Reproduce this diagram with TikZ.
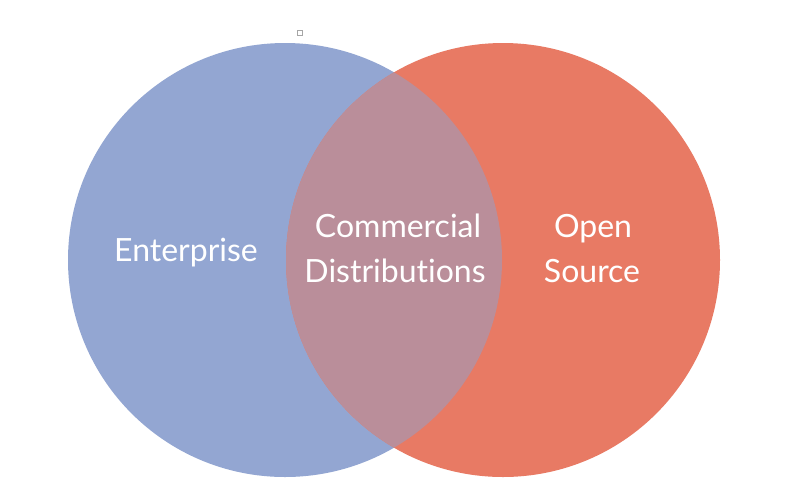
\documentclass[tikz,border=0pt]{standalone}
\usepackage{fontspec}
\setmainfont{Lato}[Ligatures={NoCommon}]
\begin{document}
\begin{tikzpicture}[x=1pt,y=-1pt,
  setlabel/.style={text=white,font=\fontsize{32}{45}\selectfont,align=center,inner sep=0pt}]
\definecolor{entblue}{HTML}{93A6D2}
\definecolor{osred}{HTML}{E87A64}
\definecolor{mixed}{HTML}{BA8E9A}
\useasboundingbox (0,0) rectangle (800,499);
\fill[white] (0,0) rectangle (800,499);
% the two sets
\fill[entblue] (285,260) circle (217);
\fill[osred] (503,260) circle (217);
% their overlap
\begin{scope}
  \clip (285,260) circle (217);
  \fill[mixed] (503,260) circle (217);
\end{scope}
% small handle mark above the left set
\node[draw=gray!70,line width=0.6pt,minimum size=5pt,inner sep=0pt] (handle) at (300,32.5) {};
% labels
\node[setlabel,anchor=base] (ent) at (186,261) {Enterprise};
\node[setlabel,anchor=base] (com) at (398,237) {Commercial};
\node[setlabel,anchor=base] (dist) at (395,282) {Distributions};
\node[setlabel,anchor=base] (open) at (593,237) {Open};
\node[setlabel,anchor=base] (src) at (592,282) {Source};
\end{tikzpicture}
\end{document}
